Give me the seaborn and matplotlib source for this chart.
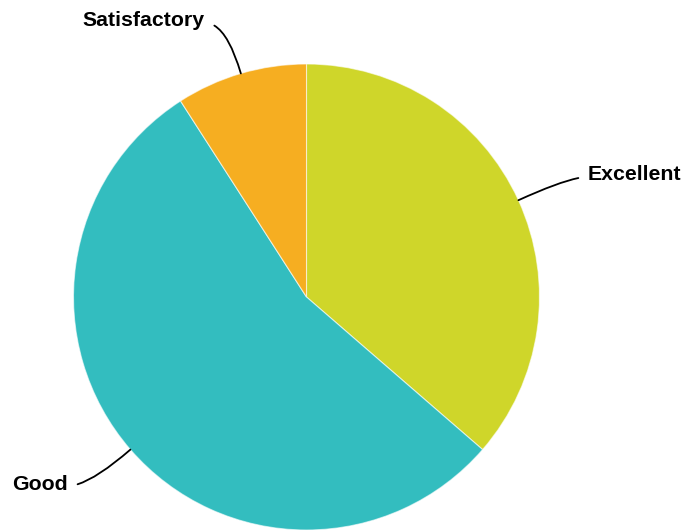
import numpy as np
import matplotlib
matplotlib.use('Agg')
import matplotlib.pyplot as plt
import seaborn as sns

# data
labels = ['Excellent', 'Good', 'Satisfactory']
counts = [40, 60, 10]
colors = ['#CFD62A', '#33BDBF', '#F6AE21']

# label anchor positions (pixels from top-left) and alignment
label_pos = [(588, 175), (68, 484), (205, 21)]
label_ha = ['left', 'right', 'right']

sns.set_theme(style='white')
plt.rcParams['font.family'] = ['Liberation Sans', 'DejaVu Sans']

W, H = 685, 531
fig = plt.figure(figsize=(W / 100, H / 100), dpi=100)
ax = fig.add_axes([0, 0, 1, 1])

cx, cy, r = 306.5, H - 297, 233
wedges, _ = ax.pie(counts, colors=colors, startangle=90, counterclock=False,
                   center=(cx, cy), radius=r, frame=True,
                   wedgeprops=dict(edgecolor=(1, 1, 1, 0.6), linewidth=0.8))
ax.set_xlim(0, W)
ax.set_ylim(0, H)
ax.set_aspect('equal')
ax.axis('off')

# outside labels with curved leader lines
for w, lab, (px, py), ha in zip(wedges, labels, label_pos, label_ha):
    mid = np.deg2rad((w.theta1 + w.theta2) / 2)
    edge = (cx + r * np.cos(mid), cy + r * np.sin(mid))
    relx = 0 if ha == 'left' else 1
    ax.annotate(lab, xy=edge, xytext=(px, H - py), ha=ha, va='center',
                fontsize=15.3, fontweight='bold', color='black',
                arrowprops=dict(arrowstyle='-', color='black', lw=1.3,
                                relpos=(relx, 0.4), patchA=None,
                                shrinkA=7, shrinkB=0,
                                connectionstyle='angle3,angleA=0,angleB=%.1f'
                                % np.rad2deg(mid)))

fig.savefig('out.png', dpi=100)
